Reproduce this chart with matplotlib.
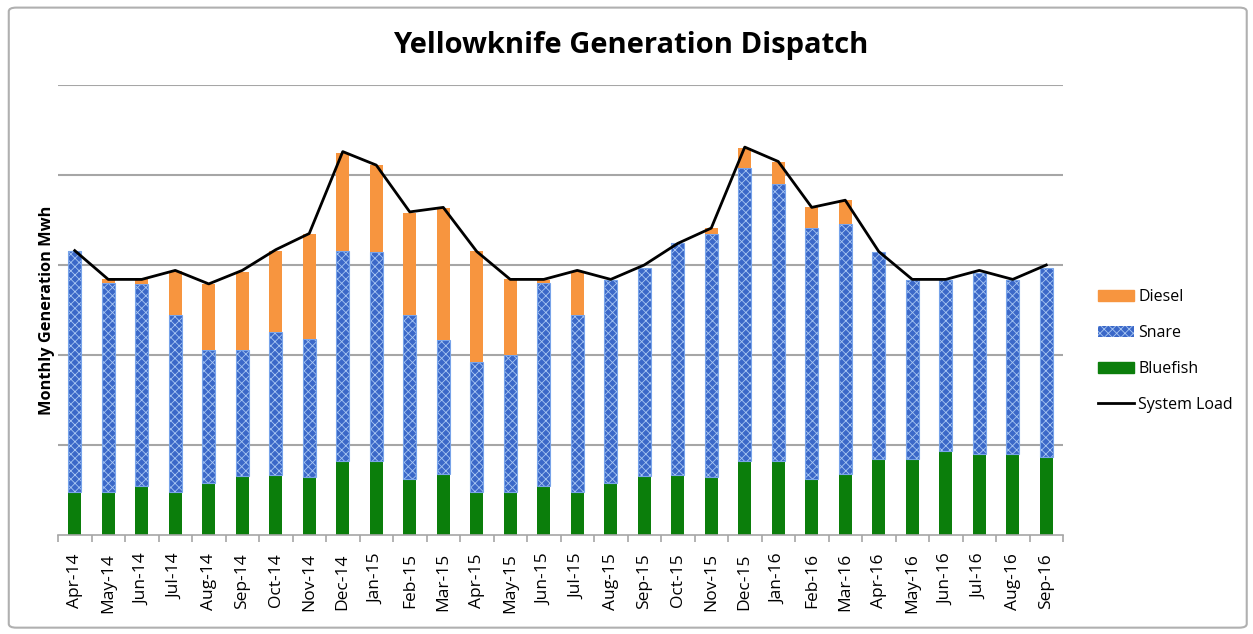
import matplotlib
matplotlib.use("Agg")
import matplotlib.pyplot as plt
from matplotlib.patches import FancyBboxPatch, Patch
from matplotlib.lines import Line2D
import numpy as np

plt.rcParams["font.family"] = ["Open Sans", "DejaVu Sans"]
plt.rcParams["hatch.linewidth"] = 0.6

# monthly values (grid step = 5 units, no scale shown on the chart)
months = ["Apr-14", "May-14", "Jun-14", "Jul-14", "Aug-14", "Sep-14",
          "Oct-14", "Nov-14", "Dec-14", "Jan-15", "Feb-15", "Mar-15",
          "Apr-15", "May-15", "Jun-15", "Jul-15", "Aug-15", "Sep-15",
          "Oct-15", "Nov-15", "Dec-15", "Jan-16", "Feb-16", "Mar-16",
          "Apr-16", "May-16", "Jun-16", "Jul-16", "Aug-16", "Sep-16"]
bluefish = [2.4, 2.4, 2.7, 2.4, 2.9, 3.3, 3.35, 3.2, 4.1, 4.1, 3.1, 3.4,
            2.4, 2.4, 2.7, 2.4, 2.9, 3.3, 3.35, 3.2, 4.1, 4.1, 3.1, 3.4,
            4.2, 4.2, 4.65, 4.5, 4.5, 4.35]
snare = [13.4, 11.6, 11.25, 9.8, 7.4, 7.0, 7.95, 7.7, 11.7, 11.6, 9.1, 7.45,
         7.2, 7.6, 11.3, 9.8, 11.25, 11.55, 12.85, 13.5, 16.3, 15.4, 13.95, 13.9,
         11.5, 9.95, 9.5, 10.05, 9.65, 10.5]
diesel = [0.0, 0.2, 0.25, 2.45, 3.65, 4.3, 4.5, 5.8, 5.4, 4.85, 5.7, 7.3,
          6.15, 4.2, 0.15, 2.45, 0.0, 0.0, 0.0, 0.35, 1.1, 1.2, 1.15, 1.3,
          0.0, 0.0, 0.0, 0.0, 0.0, 0.0]
system_load = [15.8, 14.2, 14.2, 14.7, 13.95, 14.7, 15.85, 16.75, 21.3, 20.55,
               17.95, 18.2, 15.75, 14.2, 14.2, 14.7, 14.2, 15.0, 16.2, 17.05,
               21.55, 20.75, 18.2, 18.6, 15.75, 14.2, 14.2, 14.7, 14.2, 15.0]

c_diesel = "#f7953f"
c_snare = "#3b68c8"
c_snare_tex = "#a8c6f2"
c_blue = "#0b7e0b"

fig = plt.figure(figsize=(12.53, 6.34), dpi=100)
fig.patches.append(FancyBboxPatch((0.007, 0.01), 0.988, 0.978,
                                  boxstyle="round,pad=0,rounding_size=0.006",
                                  transform=fig.transFigure, fill=False,
                                  edgecolor="#b0b0b0", linewidth=1.5))

ax = fig.add_axes([58 / 1253, 1 - 535 / 634, 1005 / 1253, 450 / 634])

x = np.arange(len(months))
b = np.array(bluefish)
s = np.array(snare)
w = 0.4
ax.bar(x, b, w, color=c_blue, zorder=2)
ax.bar(x, s, w, bottom=b, color=c_snare, hatch="xxxx",
       edgecolor=c_snare_tex, linewidth=0, zorder=2)
ax.bar(x, s, w, bottom=b, fill=False, edgecolor="#78a4ea", linewidth=0.8, zorder=2)
ax.bar(x, diesel, w, bottom=b + s, color=c_diesel, zorder=2)
ax.plot(x, system_load, color="black", linewidth=2, zorder=3)

ax.set_xlim(-0.5, len(months) - 0.5)
ax.set_ylim(0, 25)
ax.set_yticks([5, 10, 15, 20, 25])
ax.yaxis.grid(True, color="#a6a6a6", linewidth=1.5, zorder=0)
ax.tick_params(axis="y", length=0, labelleft=False)
for sp in ["left", "right", "top"]:
    ax.spines[sp].set_visible(False)
ax.spines["bottom"].set_color("#a6a6a6")
ax.spines["bottom"].set_linewidth(1.2)

ax.set_xticks(x)
ax.set_xticklabels(months, rotation=90, fontsize=12.5)
ax.set_xticks(np.arange(len(months) + 1) - 0.5, minor=True)
ax.tick_params(axis="x", which="major", length=0, pad=13)
ax.tick_params(axis="x", which="minor", length=5, color="#a6a6a6", width=1.2)

ax.set_ylabel("Monthly Generation Mwh", fontsize=11.8, fontweight="bold", labelpad=2)
fig.text(0.503, 0.928, "Yellowknife Generation Dispatch", ha="center", va="center",
         fontsize=21, fontweight="bold")

handles = [
    Patch(facecolor=c_diesel, edgecolor=c_diesel),
    Patch(facecolor=c_snare, hatch="xxxx", edgecolor=c_snare_tex, linewidth=0),
    Patch(facecolor=c_blue, edgecolor=c_blue),
    Line2D([0], [0], color="black", linewidth=2),
]
fig.legend(handles, ["Diesel", "Snare", "Bluefish", "System Load"],
           loc="center left", bbox_to_anchor=(1084 / 1253, 1 - 351 / 634),
           frameon=False, fontsize=11.5, handlelength=2.2, handleheight=0.7,
           labelspacing=1.25, handletextpad=0.3)

fig.savefig("out.png", dpi=100)
